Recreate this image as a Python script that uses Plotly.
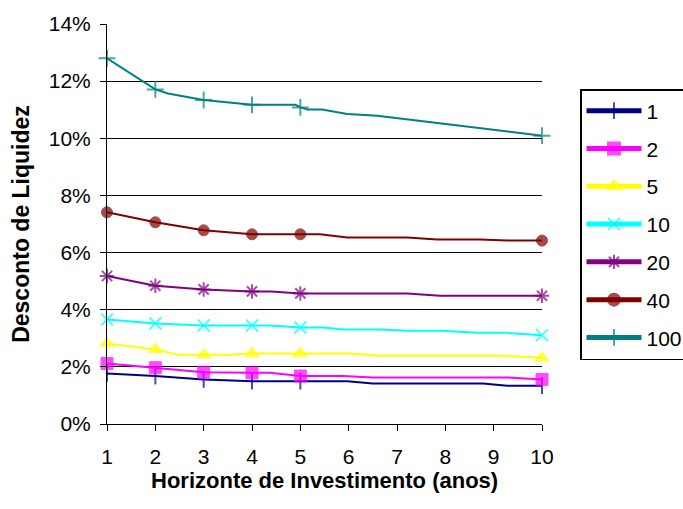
import plotly.graph_objects as go

# Years that carry a visible marker on every curve
MARKER_YEARS = [1, 2, 3, 4, 5, 10]

# Liquidity discount (%) by investment horizon (years), one curve per series
years_1 = [1, 2, 3, 4, 5, 5.97, 6.5, 8.78, 9.28, 10]
desconto_1 = [1.77, 1.68, 1.56, 1.50, 1.50, 1.50, 1.42, 1.42, 1.34, 1.34]

years_2 = [1, 2, 3, 4, 4.37, 5, 5.89, 6.5, 9.28, 10]
desconto_2 = [2.12, 1.97, 1.81, 1.79, 1.79, 1.68, 1.68, 1.63, 1.63, 1.56]

years_5 = [1, 2, 2.5, 3, 3.48, 4, 5, 6.03, 6.65, 9.2, 10]
desconto_5 = [2.82, 2.61, 2.42, 2.42, 2.42, 2.47, 2.47, 2.47, 2.39, 2.39, 2.32]

years_10 = [1, 2, 3, 4, 4.37, 5, 5.47, 5.89, 6.65, 7.21, 7.93, 8.65, 9.28, 10]
desconto_10 = [3.66, 3.52, 3.45, 3.45, 3.45, 3.38, 3.38, 3.31, 3.31, 3.26, 3.26,
               3.19, 3.19, 3.11]

years_20 = [1, 2, 3, 4, 4.4, 5, 7.21, 7.89, 10]
desconto_20 = [5.18, 4.84, 4.71, 4.64, 4.64, 4.57, 4.57, 4.49, 4.49]

years_40 = [1, 2, 3, 4, 5, 5.41, 5.97, 7.21, 7.83, 8.72, 9.28, 10]
desconto_40 = [7.41, 7.06, 6.78, 6.64, 6.64, 6.64, 6.53, 6.53, 6.46, 6.46, 6.42, 6.42]

years_100 = [1, 2, 2.26, 3, 4, 4.9, 5, 5.15, 5.45, 5.97, 6.59, 10]
desconto_100 = [12.80, 11.71, 11.57, 11.34, 11.17, 11.17, 11.08, 11.01, 11.01,
                10.85, 10.79, 10.09]

series_names = ["1", "2", "5", "10", "20", "40", "100"]
series_years = [years_1, years_2, years_5, years_10, years_20, years_40, years_100]
series_values = [desconto_1, desconto_2, desconto_5, desconto_10, desconto_20,
                 desconto_40, desconto_100]

x_ticks = [1, 2, 3, 4, 5, 6, 7, 8, 9, 10]

# (colour, marker symbol, marker size, marker outline width)
styles = [
    ("#000080", "line-ns-open", 12, 2),
    ("#FF00FF", "square", 12, 1),
    ("#FFFF00", "triangle-up", 13, 1),
    ("#00FFFF", "x-thin-open", 12, 2),
    ("#800080", "asterisk-open", 12, 2),
    ("#800000", "circle", 11, 1),
    ("#008080", "cross-thin-open", 12, 2),
]

FONT = "Arial, 'Liberation Sans', sans-serif"

fig = go.Figure()
for name, xs, vals, (color, symbol, size, lw) in zip(series_names, series_years,
                                                      series_values, styles):
    fig.add_trace(go.Scatter(
        x=xs,
        y=[v / 100 for v in vals],
        name=name,
        legendgroup=name,
        mode="lines+markers",
        line=dict(color=color, width=2),
        marker=dict(
            symbol=symbol,
            size=[size if x in MARKER_YEARS else 0 for x in xs],
            color=color,
            line=dict(color=color, width=lw),
        ),
        cliponaxis=False,
    ))

fig.update_layout(
    width=683,
    height=509,
    # fixed margins: the legend box is allowed to run past the right edge
    margin=dict(l=107, r=141, t=24, b=85, autoexpand=False),
    paper_bgcolor="white",
    plot_bgcolor="white",
    font=dict(family=FONT, size=21, color="black"),
    showlegend=True,
    legend=dict(
        x=(580 - 107) / 435,
        xanchor="left",
        y=1 - (89 - 24) / 400,
        yanchor="top",
        bordercolor="black",
        borderwidth=1.5,
        bgcolor="white",
        font=dict(family=FONT, size=21, color="black"),
        itemsizing="constant",
        itemwidth=55,
        tracegroupgap=7.5,
    ),
    xaxis=dict(
        range=[1, 10],
        tickvals=x_ticks,
        ticks="outside",
        ticklen=6,
        tickcolor="black",
        showline=True,
        linecolor="black",
        linewidth=1,
        showgrid=False,
        zeroline=False,
        tickfont=dict(family=FONT, size=21, color="black"),
        ticklabelstandoff=8,
    ),
    yaxis=dict(
        range=[0, 0.14],
        dtick=0.02,
        tickformat=".0%",
        ticks="outside",
        ticklen=6,
        tickcolor="black",
        showline=True,
        linecolor="black",
        linewidth=1,
        showgrid=True,
        gridcolor="black",
        gridwidth=1,
        zeroline=False,
        tickfont=dict(family=FONT, size=21, color="black"),
        ticklabelstandoff=5,
        title=dict(text="<b>Desconto de Liquidez</b>",
                   font=dict(family=FONT, size=23, color="black"),
                   standoff=12),
    ),
    annotations=[
        dict(
            text="<b>Horizonte de Investimento (anos)</b>",
            xref="paper", yref="paper",
            x=0.5, y=-56 / 400,
            xanchor="center", yanchor="middle",
            showarrow=False,
            font=dict(family=FONT, size=22, color="black"),
        )
    ],
)

fig.write_html("out.html")
